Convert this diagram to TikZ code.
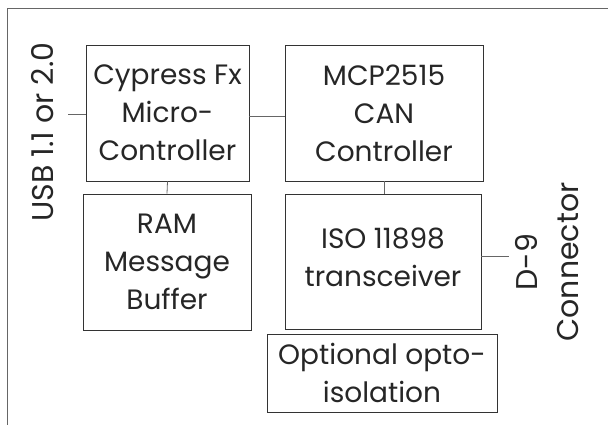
\documentclass[tikz,border=0pt]{standalone}
\usepackage{fontspec}
\setmainfont{Poppins}
\usetikzlibrary{calc}
\begin{document}
\begin{tikzpicture}[x=1pt,y=1pt,
  blk/.style={draw=black!80,line width=0.8pt,inner sep=0pt,align=center,
    font=\fontsize{28}{38}\selectfont,text=black!85},
  lbl/.style={inner sep=0pt,align=center,font=\fontsize{30}{41}\selectfont,text=black!85},
  wire/.style={draw=black!60,line width=0.8pt},
  frame/.style={draw=black!60,line width=0.8pt}]
\useasboundingbox (0,0) rectangle (608,-425);
\coordinate (ftr) at (608,-8);
\coordinate (ftl) at (7,-8);
\coordinate (fbl) at (7,-425);
\draw[frame] (ftr) -- (ftl) -- (fbl);
\node[blk,minimum width=163,minimum height=136] (cyp) at (167.5,-113) {Cypress Fx\\Micro-\\Controller};
\node[blk,minimum width=198,minimum height=136] (mcp) at (384,-113) {MCP2515\\CAN\\Controller};
\node[blk,minimum width=168,minimum height=136] (ram) at (167,-262) {RAM\\Message\\Buffer};
\node[blk,minimum width=196,minimum height=135] (iso) at (383,-261.5) {};
\node[blk,draw=none,minimum width=0,minimum height=0] (isotext) at (383,-257) {ISO 11898\\transceiver};
\node[blk,minimum width=230,minimum height=78] (opt) at (382,-373) {Optional opto-\\isolation};
\node[lbl,rotate=90] (usb) at (43,-132) {USB 1.1 or 2.0};
\node[lbl,rotate=90] (d9) at (547,-262) {D-9\\Connector};
\coordinate (usbend) at (68,-114);
\coordinate (d9end) at (509,-256);
\draw[wire] (usbend) -- (cyp.west |- usbend);
\draw[wire] ($(cyp.east)+(0,-3)$) -- ($(mcp.west)+(0,-3)$);
\draw[wire] (cyp.south) -- (ram.north);
\draw[wire] (mcp.south) -- (iso.north -| mcp.south);
\draw[wire] (iso.east |- d9end) -- (d9end);
\end{tikzpicture}
\end{document}
